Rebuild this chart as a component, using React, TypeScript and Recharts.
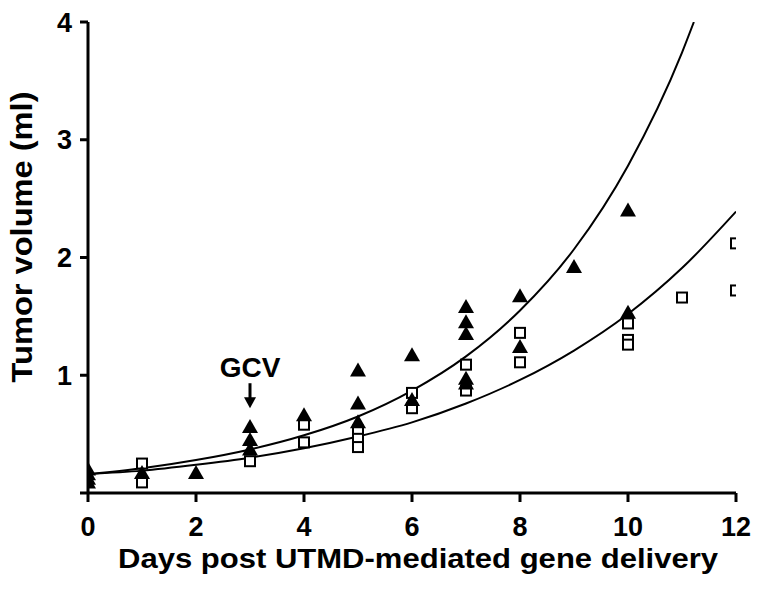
import {
  ComposedChart,
  Line,
  Scatter,
  XAxis,
  YAxis,
  ReferenceDot,
  Label,
} from "recharts";

// filled triangles
const triDays = [0, 0, 0, 0, 1, 2, 3, 3, 3, 4, 5, 5, 5, 6, 6, 7, 7, 7, 7, 7, 8, 8, 9, 10, 10];
const triVol = [0.2, 0.16, 0.12, 0.09, 0.17, 0.17, 0.56, 0.45, 0.37, 0.66, 1.04, 0.76, 0.6, 1.17, 0.79, 1.58, 1.45, 1.35, 0.97, 0.93, 1.67, 1.24, 1.92, 2.4, 1.53];

// open squares
const sqDays = [1, 1, 3, 4, 4, 5, 5, 5, 6, 6, 7, 7, 8, 8, 10, 10, 10, 11, 12, 12];
const sqVol = [0.25, 0.09, 0.27, 0.58, 0.43, 0.53, 0.46, 0.39, 0.85, 0.72, 1.09, 0.87, 1.36, 1.11, 1.44, 1.3, 1.26, 1.66, 2.12, 1.72];

// fitted curves
const upperDays = [0, 1, 2, 3, 4, 5, 6, 7, 8, 9, 10, 11, 11.22];
const upperVol = [0.16, 0.21, 0.28, 0.37, 0.49, 0.65, 0.87, 1.16, 1.55, 2.07, 2.78, 3.74, 4.0];
const lowerDays = [0, 1, 2, 3, 4, 5, 6, 7, 8, 9, 10, 11, 12];
const lowerVol = [0.16, 0.19, 0.24, 0.3, 0.38, 0.48, 0.6, 0.76, 0.96, 1.21, 1.52, 1.91, 2.39];

const xTicks = [0, 2, 4, 6, 8, 10, 12];
const yTicks = [0, 1, 2, 3, 4];

const zip = (xs: number[], ys: number[]) => xs.map((x, i) => ({ x, y: ys[i] }));

const triData = zip(triDays, triVol);
const sqData = zip(sqDays, sqVol);
const upperData = zip(upperDays, upperVol);
const lowerData = zip(lowerDays, lowerVol);

const font = "'Liberation Sans', Arial, sans-serif";
const tickStyle = { fontSize: 27, fontWeight: 700, fill: "#000", fontFamily: font };

const Triangle = (p: any) => (
  <polygon
    points={`${p.cx - 8},${p.cy + 6} ${p.cx + 8},${p.cy + 6} ${p.cx},${p.cy - 8}`}
    fill="#000"
  />
);

const Square = (p: any) => (
  <rect x={p.cx - 5} y={p.cy - 5} width={10} height={10} fill="#fff" stroke="#000" strokeWidth={2} />
);

const Gcv = (p: any) => (
  <g>
    <line x1={p.cx} y1={p.cy - 25} x2={p.cx} y2={p.cy - 8} stroke="#000" strokeWidth={3} />
    <polygon points={`${p.cx - 6},${p.cy - 11} ${p.cx + 6},${p.cy - 11} ${p.cx},${p.cy}`} fill="#000" />
    <text x={p.cx} y={p.cy - 31} textAnchor="middle" fontSize={28} fontWeight={700} fontFamily={font} fill="#000">
      GCV
    </text>
  </g>
);

export default function App() {
  return (
    <div style={{ position: "absolute", left: 0, top: 0, background: "#fff" }}>
      <ComposedChart width={762} height={593} margin={{ top: 22, right: 26, left: 0, bottom: 0 }}>
        <XAxis
          type="number"
          dataKey="x"
          domain={[0, 12]}
          ticks={xTicks}
          allowDataOverflow
          height={100}
          tick={tickStyle}
          tickSize={9}
          tickMargin={15}
          axisLine={{ stroke: "#000", strokeWidth: 3 }}
          tickLine={{ stroke: "#000", strokeWidth: 3 }}
        >
          <Label
            content={({ viewBox }: any) => (
              <text
                x={viewBox.x + viewBox.width / 2 + 6}
                y={568}
                textAnchor="middle"
                textLength={600}
                lengthAdjust="spacingAndGlyphs"
                fontSize={28}
                fontWeight={700}
                fontFamily={font}
                fill="#000"
              >
                Days post UTMD-mediated gene delivery
              </text>
            )}
          />
        </XAxis>
        <YAxis
          type="number"
          dataKey="y"
          domain={[0, 4]}
          ticks={yTicks}
          allowDataOverflow
          width={88}
          tick={tickStyle}
          tickFormatter={(v: number) => (v === 0 ? "" : String(v))}
          tickSize={8}
          tickMargin={8}
          axisLine={{ stroke: "#000", strokeWidth: 3 }}
          tickLine={{ stroke: "#000", strokeWidth: 3 }}
        >
          <Label
            content={() => (
              <text
                x={32}
                y={237}
                transform="rotate(-90, 32, 237)"
                textAnchor="middle"
                textLength={291}
                lengthAdjust="spacingAndGlyphs"
                fontSize={30}
                fontWeight={700}
                fontFamily={font}
                fill="#000"
              >
                Tumor volume (ml)
              </text>
            )}
          />
        </YAxis>
        <Line data={upperData} dataKey="y" type="monotone" stroke="#000" strokeWidth={2} dot={false} isAnimationActive={false} />
        <Line data={lowerData} dataKey="y" type="monotone" stroke="#000" strokeWidth={2} dot={false} isAnimationActive={false} />
        <Scatter data={sqData} dataKey="y" shape={Square} isAnimationActive={false} />
        <Scatter data={triData} dataKey="y" shape={Triangle} isAnimationActive={false} />
        <ReferenceDot x={3} y={0.72} shape={Gcv} ifOverflow="visible" />
      </ComposedChart>
    </div>
  );
}
